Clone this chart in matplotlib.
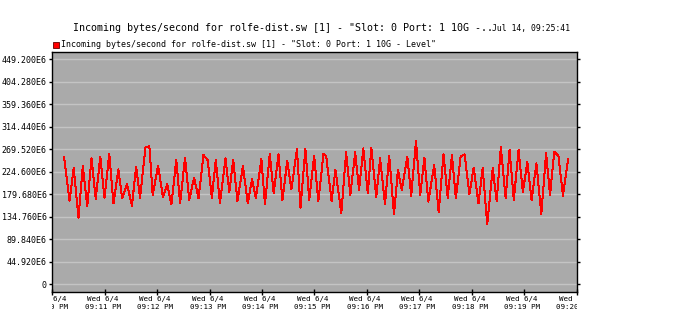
import numpy as np
import matplotlib
matplotlib.use("Agg")
import matplotlib.pyplot as plt
from matplotlib.patches import Rectangle
from matplotlib.transforms import Bbox, TransformedBbox, ScaledTranslation

# segundos desde 21:10:00 (Wed 6/4) y bytes/segundo en E6
segundos = [13.4, 19.7, 24.5, 30.0, 34.9, 40.0, 44.9, 49.7, 54.9, 59.7,
            65.2, 70.0, 75.6, 80.0, 85.6, 91.1, 96.0, 100.4, 106.7, 108.5,
            111.1, 114.9, 121.1, 126.7, 131.5, 136.3, 141.9, 146.3, 151.9, 156.7,
            162.3, 167.4, 173.0, 177.8, 182.6, 187.1, 191.9, 198.2, 202.6, 207.1,
            211.9, 218.2, 223.7, 228.6, 233.0, 239.3, 243.4, 248.9, 253.4, 258.9,
            263.4, 268.9, 273.7, 280.0, 284.1, 289.7, 294.1, 299.7, 304.5, 310.4,
            313.4, 319.7, 324.1, 330.8, 336.3, 341.1, 346.7, 351.1, 356.0, 361.1,
            365.2, 370.8, 375.2, 380.8, 385.6, 391.1, 395.6, 400.0, 406.3, 410.8,
            416.3, 421.1, 425.9, 430.4, 437.1, 442.3, 447.8, 452.6, 457.4, 461.9,
            467.4, 471.9, 477.4, 482.3, 487.8, 492.6, 497.8, 504.1, 508.6, 513.4,
            518.9, 523.4, 528.2, 533.7, 538.6, 543.7, 548.6, 554.1, 559.7, 565.2,
            569.7, 574.5, 579.3, 584.5, 590.4]
valores = [254.8, 167.0, 231.5, 133.0, 236.2, 156.3, 251.5, 170.3, 254.8, 172.9,
           260.1, 161.6, 229.5, 171.6, 199.6, 157.0, 234.8, 172.9, 273.4, 274.8,
           275.5, 178.3, 236.8, 173.6, 199.6, 159.7, 248.2, 161.6, 252.8, 168.3,
           212.9, 171.6, 258.1, 248.2, 172.9, 248.2, 161.6, 251.5, 184.9, 248.2,
           166.3, 236.2, 161.6, 209.6, 171.6, 250.1, 159.7, 260.1, 181.6, 259.5,
           168.3, 246.2, 189.6, 270.1, 153.0, 270.1, 168.3, 256.8, 166.3, 260.1,
           256.8, 166.3, 228.2, 141.7, 263.5, 178.3, 263.5, 188.3, 271.5, 181.6,
           272.8, 174.9, 251.5, 159.7, 256.8, 139.7, 228.2, 188.3, 254.8, 176.9,
           286.1, 178.3, 252.8, 165.0, 238.2, 143.7, 259.5, 172.9, 258.1, 171.6,
           254.8, 259.5, 179.6, 232.8, 161.6, 232.8, 119.7, 231.5, 166.3, 273.4,
           171.6, 268.1, 168.3, 268.1, 183.6, 244.8, 168.3, 241.5, 140.3, 261.5,
           178.3, 264.8, 256.8, 176.9, 250.1]

ticks_y = [0, 44.92, 89.84, 134.76, 179.68, 224.60, 269.52, 314.44, 359.36, 404.28, 449.20]
ticks_x = [0, 60, 120, 180, 240, 300, 360, 420, 480, 540, 600]
horas_x = ["09:10", "09:11", "09:12", "09:13", "09:14", "09:15", "09:16",
           "09:17", "09:18", "09:19", "09:20"]

titulo = 'Incoming bytes/second for rolfe-dist.sw [1] - "Slot: 0 Port: 1 10G -..'
fecha = "Jul 14, 09:25:41"
leyenda = 'Incoming bytes/second for rolfe-dist.sw [1] - "Slot: 0 Port: 1 10G - Level"'

fuente = "DejaVu Sans Mono"

fig = plt.figure(figsize=(6.86, 3.33), dpi=100)
ax = fig.add_axes([52.3 / 686, 41 / 333, 524.2 / 686, 240.3 / 333])
ax.set_facecolor("#aaaaaa")

ax.plot(segundos, valores, color="#ff0000", lw=0.72, antialiased=False, zorder=3)

ax.set_xlim(10, 592.4)
ax.set_ylim(-15.4, 464.4)

ax.set_yticks(ticks_y)
ax.set_yticklabels(["0" if v == 0 else f"{v:.3f}E6" for v in ticks_y],
                   fontfamily=fuente, fontsize=6)
ax.set_xticks(ticks_x)
ax.set_xticklabels([f"Wed 6/4\n{h} PM" for h in horas_x],
                   fontfamily=fuente, fontsize=5.4, linespacing=1.45)
ax.grid(axis="y", color="#c4c4c4", lw=1.0)
ax.set_axisbelow(True)

ax.tick_params(axis="y", direction="out", length=2, width=1, pad=2,
               right=True, left=True)
ax.tick_params(axis="x", direction="inout", length=5, width=1, pad=0.5)
for s in ax.spines.values():
    s.set_linewidth(1.0)
    s.set_color("black")

# recorta las etiquetas del eje x al ancho del grafico (y un leve corrimiento)
caja = TransformedBbox(Bbox([[0, -1], [1, 0]]), ax.transAxes)
corrimiento = ScaledTranslation(-2 / 100, 0, fig.dpi_scale_trans)
for lab in ax.get_xticklabels():
    lab.set_transform(lab.get_transform() + corrimiento)
    lab.set_clip_on(True)
    lab.set_clip_box(caja)

# titulo y fecha
fig.text(73 / 686, 1 - 28 / 333, titulo, fontfamily=fuente, fontsize=7.2,
         ha="left", va="center")
fig.text(492 / 686, 1 - 29 / 333, fecha, fontfamily=fuente, fontsize=5.9,
         ha="left", va="center")

# leyenda
fig.patches.append(Rectangle((53 / 686, 1 - 48 / 333), 6 / 686, 6 / 333,
                             transform=fig.transFigure, facecolor="#ff0000",
                             edgecolor="#600000", lw=0.6))
fig.text(61 / 686, 1 - 44.5 / 333, leyenda, fontfamily=fuente, fontsize=6,
         ha="left", va="center")

fig.savefig("out.png", dpi=100)
